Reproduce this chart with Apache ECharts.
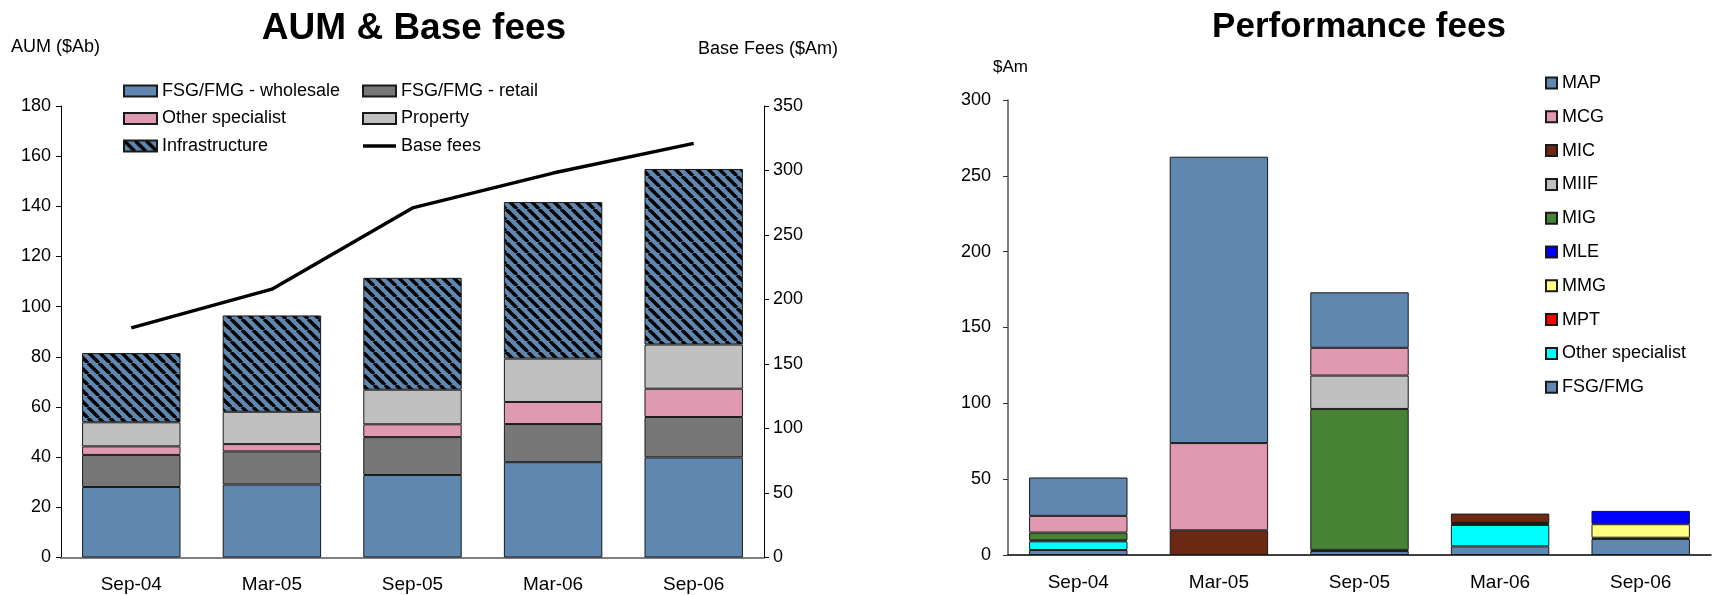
<!DOCTYPE html>
<html>
<head>
<meta charset="utf-8">
<script src="https://cdn.jsdelivr.net/npm/echarts@6/dist/echarts.min.js"></script>
<style>
  html, body { margin: 0; padding: 0; background: #fff; }
  #chart { width: 1717px; height: 595px; }
</style>
</head>
<body>
<div id="chart"></div>
<script>
// categories
const periods = ['Sep-04', 'Mar-05', 'Sep-05', 'Mar-06', 'Sep-06']

// AUM ($Ab), stacked
const fsgWholesale = [28.1, 29.1, 32.9, 38.0, 39.9]
const fsgRetail = [12.8, 13.2, 15.1, 15.2, 16.1]
const otherSpecialistAum = [3.4, 2.9, 5.1, 8.8, 11.3]
const property = [9.6, 12.9, 13.8, 17.3, 17.6]
const infrastructure = [27.6, 38.4, 44.6, 62.4, 70.0]
// Base fees ($Am)
const baseFees = [178, 208, 271, 298, 321]

// Performance fees ($Am), stacked bottom -> top
const perfFsg = [3.3, 0, 2.6, 5.7, 10.6]
const perfOther = [5.7, 0, 0, 14.1, 0.8]
const perfMPT = [0, 0, 0, 1.3, 0]
const perfMMG = [0, 0, 0, 0, 8.9]
const perfMLE = [0.7, 0, 0.8, 0, 8.8]
const perfMIG = [5.1, 0, 92.9, 0, 0]
const perfMIIF = [0, 0, 22.0, 0, 0]
const perfMIC = [0, 16.3, 0, 6.2, 0]
const perfMCG = [11.0, 57.5, 18.3, 0, 0]
const perfMAP = [25.3, 188.8, 36.6, 0, 0]

const aumTicks = { min: 0, max: 180, interval: 20 }
const feeTicks = { min: 0, max: 350, interval: 50 }
const perfTicks = { min: 0, max: 300, interval: 50 }

const FONT = "'Liberation Sans', Arial, sans-serif"
const BLUE = '#5f87b0'

// diagonal stripe fill for Infrastructure
const makeStripes = () => {
  const s = 11
  const c = document.createElement('canvas')
  c.width = s
  c.height = s
  const g = c.getContext('2d')
  g.fillStyle = BLUE
  g.fillRect(0, 0, s, s)
  g.strokeStyle = '#000'
  g.lineWidth = 3.4
  for (const k of [-1, 0, 1]) {
    g.beginPath()
    g.moveTo(k * s, 0)
    g.lineTo(k * s + s, s)
    g.stroke()
  }
  return c
}

const noZero = arr => arr.map(v => (v === 0 ? '-' : v))

const border = { borderColor: '#1a1a1a', borderWidth: 1 }

const aumBar = (name, data, color) => ({
  name,
  type: 'bar',
  stack: 'aum',
  xAxisIndex: 0,
  yAxisIndex: 0,
  barWidth: '70%',
  data,
  itemStyle: Object.assign({ color }, border)
})

const perfBar = (name, data, color) => ({
  name,
  type: 'bar',
  stack: 'perf',
  xAxisIndex: 1,
  yAxisIndex: 2,
  barWidth: '70%',
  data: noZero(data),
  itemStyle: Object.assign({ color }, border)
})

const labelStyle = { color: '#000', fontSize: 18, fontFamily: FONT }
const catLabel = { color: '#000', fontSize: 19, fontFamily: FONT, margin: 18 }
const legendText = { fontSize: 18, color: '#000', fontFamily: FONT, lineHeight: 18 }

const chart = echarts.init(document.getElementById('chart'))

const option = {
  animation: false,
  backgroundColor: '#fff',
  textStyle: { fontFamily: FONT },
  title: [
    {
      text: 'AUM & Base fees',
      left: 409,
      top: 5,
      textAlign: 'center',
      textStyle: { fontSize: 37, fontWeight: 'bold', color: '#000', fontFamily: FONT }
    },
    {
      text: 'Performance fees',
      left: 1354,
      top: 5,
      textAlign: 'center',
      textStyle: { fontSize: 35, fontWeight: 'bold', color: '#000', fontFamily: FONT }
    }
  ],
  graphic: [
    { type: 'text', left: 11, top: 38, style: { text: 'AUM ($Ab)', font: `18px ${FONT}`, fill: '#000' } },
    { type: 'text', right: 1717 - 838, top: 40, style: { text: 'Base Fees ($Am)', font: `18px ${FONT}`, fill: '#000' } },
    { type: 'text', left: 993, top: 59, style: { text: '$Am', font: `17px ${FONT}`, fill: '#000' } }
  ],
  legend: [
    {
      orient: 'vertical',
      left: 118,
      top: 77,
      icon: 'rect',
      itemWidth: 33,
      itemHeight: 11,
      itemGap: 9.5,
      textStyle: legendText,
      data: ['FSG/FMG - wholesale', 'Other specialist ', 'Infrastructure']
    },
    {
      orient: 'vertical',
      left: 357,
      top: 77,
      icon: 'rect',
      itemWidth: 33,
      itemHeight: 11,
      itemGap: 9.5,
      textStyle: legendText,
      data: [
        'FSG/FMG - retail',
        'Property',
        { name: 'Base fees', icon: 'path://M0,0 L33,0 L33,3.5 L0,3.5 Z' }
      ]
    },
    {
      orient: 'vertical',
      left: 1540,
      top: 69,
      icon: 'rect',
      itemWidth: 11,
      itemHeight: 11,
      itemGap: 15.8,
      textStyle: legendText,
      data: ['MAP', 'MCG', 'MIC', 'MIIF', 'MIG', 'MLE', 'MMG', 'MPT', 'Other specialist', 'FSG/FMG']
    }
  ],
  grid: [
    { left: 61, top: 106, width: 703, bottom: 37.5 },
    { left: 1008, top: 100, width: 703, bottom: 40 }
  ],
  xAxis: [
    {
      type: 'category',
      gridIndex: 0,
      data: periods,
      axisLine: { lineStyle: { color: '#808080', width: 2 } },
      axisTick: { show: false },
      axisLabel: catLabel
    },
    {
      type: 'category',
      gridIndex: 1,
      data: periods,
      axisLine: { lineStyle: { color: '#000', width: 1.5 } },
      axisTick: { show: false },
      axisLabel: catLabel
    }
  ],
  yAxis: [
    Object.assign({
      type: 'value',
      gridIndex: 0,
      position: 'left',
      axisLine: { show: true, lineStyle: { color: '#000', width: 1 } },
      axisTick: { show: true, length: 5, lineStyle: { color: '#000' } },
      axisLabel: Object.assign({ margin: 10 }, labelStyle),
      splitLine: { show: false }
    }, aumTicks),
    Object.assign({
      type: 'value',
      gridIndex: 0,
      position: 'right',
      axisLine: { show: true, lineStyle: { color: '#000', width: 1 } },
      axisTick: { show: true, length: 5, lineStyle: { color: '#000' } },
      axisLabel: Object.assign({ margin: 9 }, labelStyle),
      splitLine: { show: false }
    }, feeTicks),
    Object.assign({
      type: 'value',
      gridIndex: 1,
      axisLine: { show: true, lineStyle: { color: '#555', width: 1.5 } },
      axisTick: { show: true, length: 5, lineStyle: { color: '#333' } },
      axisLabel: Object.assign({ margin: 17 }, labelStyle),
      splitLine: { show: false }
    }, perfTicks)
  ],
  series: [
    aumBar('FSG/FMG - wholesale', fsgWholesale, BLUE),
    aumBar('FSG/FMG - retail', fsgRetail, '#777777'),
    aumBar('Other specialist ', otherSpecialistAum, '#df9ab2'),
    aumBar('Property', property, '#c0c0c0'),
    aumBar('Infrastructure', infrastructure, { image: makeStripes(), repeat: 'repeat' }),
    {
      name: 'Base fees',
      type: 'line',
      xAxisIndex: 0,
      yAxisIndex: 1,
      data: baseFees,
      symbol: 'none',
      z: 5,
      lineStyle: { color: '#000', width: 3.5 },
      itemStyle: { color: '#000' }
    },
    perfBar('FSG/FMG', perfFsg, BLUE),
    perfBar('Other specialist', perfOther, '#00ffff'),
    perfBar('MPT', perfMPT, '#ff0000'),
    perfBar('MMG', perfMMG, '#ffff80'),
    perfBar('MLE', perfMLE, '#0000ff'),
    perfBar('MIG', perfMIG, '#478335'),
    perfBar('MIIF', perfMIIF, '#c0c0c0'),
    perfBar('MIC', perfMIC, '#6b2914'),
    perfBar('MCG', perfMCG, '#df9ab2'),
    perfBar('MAP', perfMAP, BLUE)
  ]
}

chart.setOption(option)
</script>
</body>
</html>
